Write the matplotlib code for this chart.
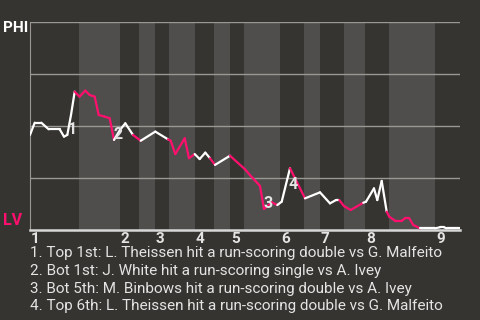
import matplotlib
matplotlib.use("Agg")
import matplotlib.pyplot as plt
import numpy as np
from matplotlib.collections import LineCollection

plt.rcParams["font.family"] = ["Roboto", "DejaVu Sans"]

# win probability for PHI, by play progress
progress = [0, 0.94, 2.26, 3.74, 5.94, 6.8, 7.46, 8.2, 8.94, 9.9, 11.06, 11.94, 12.94,
            13.74, 14.94, 15.94, 16.8, 18, 19.06, 20.6, 22.14, 25.06, 27.6, 28.14,
            29.06, 30.94, 31.8, 32.94, 33.94, 35.06, 36, 37, 40, 43, 44, 46, 46.8,
            48.34, 49.46, 50.34, 52, 55, 58, 60, 61.2, 61.86, 62.8, 64.14, 66.66,
            67.2, 68.8, 69.46, 70.34, 71.34, 71.86, 73, 74.34, 75, 75.86, 76.66, 78,
            81, 82, 82.8, 83.34, 86]
win_prob = [0.457, 0.516, 0.516, 0.484, 0.484, 0.449, 0.457, 0.553, 0.665, 0.641,
            0.670, 0.649, 0.641, 0.553, 0.545, 0.537, 0.433, 0.481, 0.513, 0.457,
            0.429, 0.473, 0.436, 0.429, 0.365, 0.441, 0.345, 0.365, 0.341, 0.372,
            0.345, 0.313, 0.357, 0.292, 0.264, 0.212, 0.101, 0.133, 0.120, 0.136,
            0.297, 0.152, 0.181, 0.128, 0.144, 0.144, 0.115, 0.096, 0.131, 0.136,
            0.200, 0.144, 0.236, 0.088, 0.064, 0.045, 0.045, 0.056, 0.056, 0.024,
            0.008, 0.008, 0.013, 0.013, 0.008, 0.008]

# half-inning boundaries (top, bottom, top, ...)
half_starts = [0, 9.8, 18, 21.8, 25, 27.8, 33, 36.8, 40, 42.8, 50, 54.8, 58, 62.8,
               67, 71.8, 81]
game_end = 86
innings = ["1", "2", "3", "4", "5", "6", "7", "8", "9"]

events = ["1", "2", "3", "4"]
event_x = [8.5, 17.7, 47.7, 52.7]
event_y = [0.481, 0.457, 0.127, 0.221]
event_text = [
    "1. Top 1st: L. Theissen hit a run-scoring double vs G. Malfeito",
    "2. Bot 1st: J. White hit a run-scoring single vs A. Ivey",
    "3. Bot 5th: M. Binbows hit a run-scoring double vs A. Ivey",
    "4. Top 6th: L. Theissen hit a run-scoring double vs G. Malfeito",
]

bg = "#363430"
band = "#4f4e4c"
pink = "#ff0f6e"
txt = "#e4e4e4"

fig = plt.figure(figsize=(4.8, 3.2), dpi=100, facecolor=bg)
ax = fig.add_axes([0.0625, 0.28125, 0.8958, 0.65])
ax.set_facecolor(bg)
ax.set_xlim(0, game_end)
ax.set_ylim(0, 1)

ends = half_starts[1:] + [game_end]
for i, (a, b) in enumerate(zip(half_starts, ends)):
    if i % 2 == 1:
        ax.axvspan(a, b, color=band, lw=0, zorder=0)

for yv in [0.25, 0.5, 0.75, 1.0]:
    ax.axhline(yv, color="#9a9893", lw=1, zorder=1)

for s in ["top", "right"]:
    ax.spines[s].set_visible(False)
ax.spines["left"].set_color("#9a9893")
ax.spines["bottom"].set_color("#d8d8d8")
ax.spines["bottom"].set_linewidth(1.8)
ax.set_xticks([])
ax.set_yticks([])

# color each segment by half inning
x = np.array(progress)
y = np.array(win_prob)
segs = [[(x[i], y[i]), (x[i + 1], y[i + 1])] for i in range(len(x) - 1)]
cols = []
for i in range(len(x) - 1):
    k = np.searchsorted(half_starts, x[i + 1], side="right") - 1
    cols.append(pink if k % 2 == 1 else "white")
ax.add_collection(LineCollection(segs, colors=cols, linewidths=1.6, zorder=3,
                                 capstyle="round", joinstyle="round"))

for lab, ex, ey in zip(events, event_x, event_y):
    ax.text(ex, ey, lab, color=txt, fontsize=11.5, ha="center", va="center",
            fontweight="bold", zorder=4)

for lab, xs in zip(innings, half_starts[0::2]):
    ax.text(xs + 0.2, -0.008, lab, color=txt, fontsize=11, fontweight="bold",
            ha="left", va="top", transform=ax.get_xaxis_transform())

fig.text(0.006, 0.913, "PHI", color="white", fontsize=11, fontweight="bold",
         ha="left", va="center")
fig.text(0.006, 0.31, "LV", color=pink, fontsize=11.5, fontweight="bold",
         ha="left", va="center")

for i, t in enumerate(event_text):
    fig.text(0.0625, 0.209 - i * 0.0555, t, color=txt, fontsize=11,
             ha="left", va="center")

fig.savefig("out.png", dpi=100, facecolor=bg)
